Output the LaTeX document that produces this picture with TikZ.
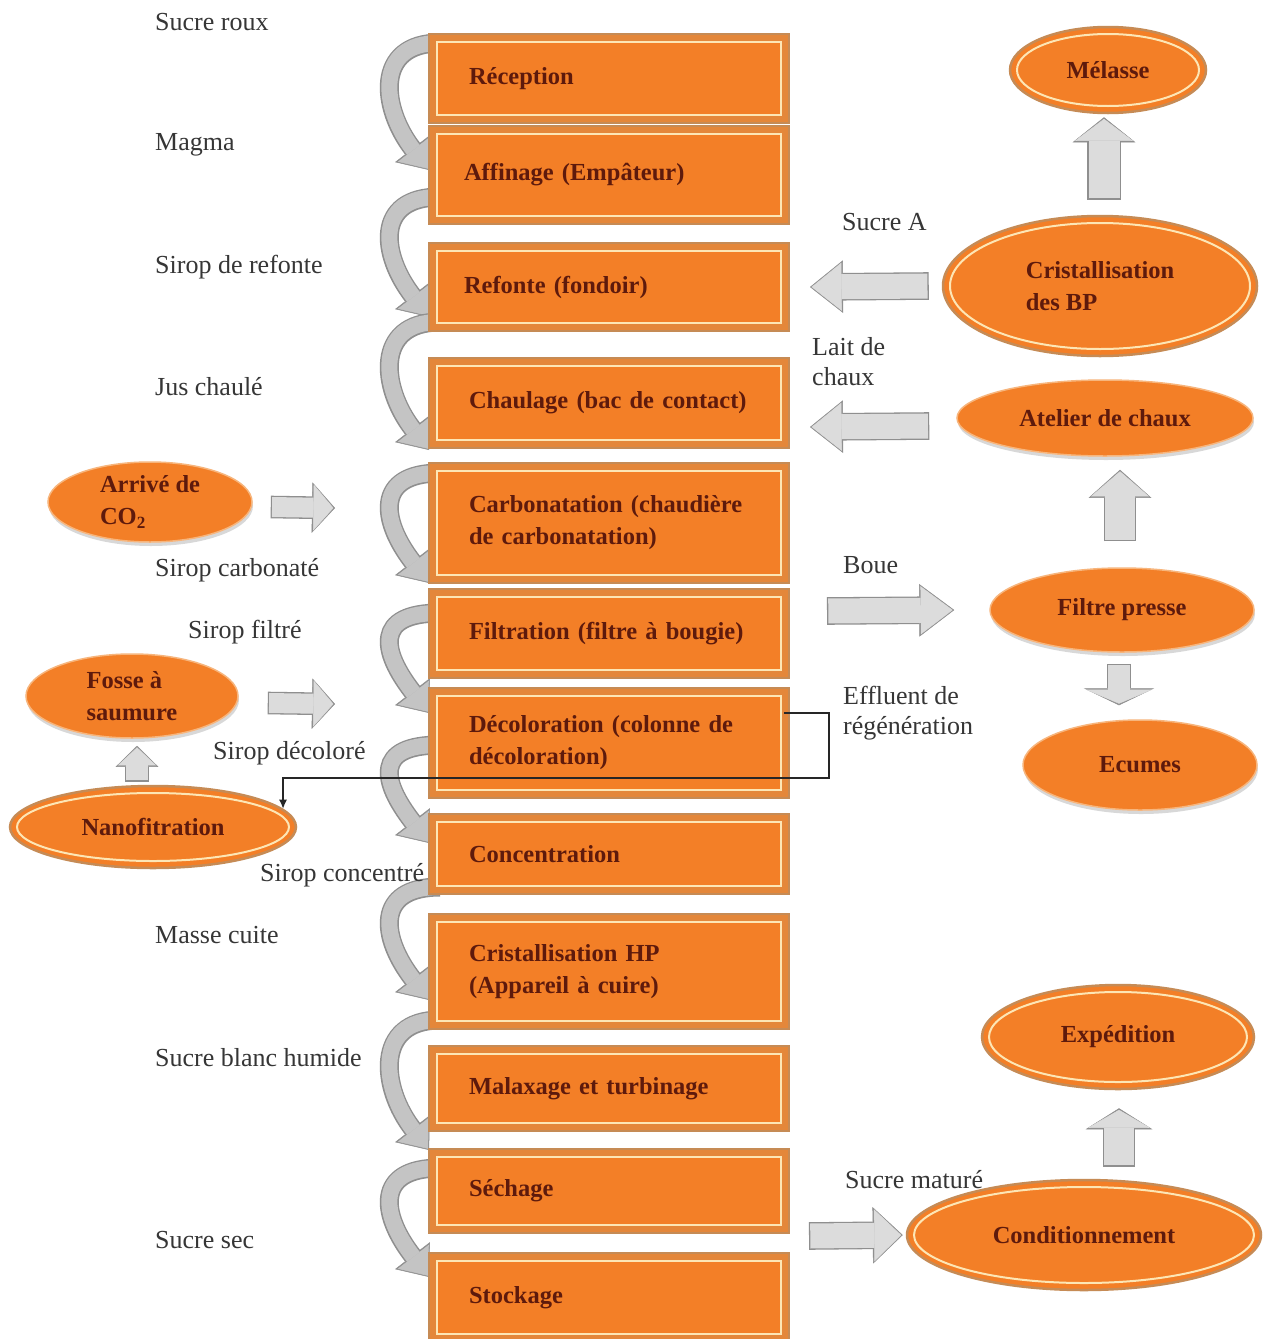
\documentclass[tikz,border=0pt]{standalone}
\usepackage{fontspec}
\setmainfont{Liberation Serif}
\usetikzlibrary{arrows.meta,shapes.geometric,shadows}
\pgfdeclarelayer{bg}
\pgfsetlayers{bg,main}
\definecolor{boxorange}{HTML}{F37F27}
\definecolor{boxband}{HTML}{E4873A}
\definecolor{boxline}{HTML}{C68B55}
\definecolor{creamline}{HTML}{FDE6B5}
\definecolor{boxtext}{HTML}{5E1A0C}
\definecolor{labeltext}{HTML}{363636}
\definecolor{arrline}{HTML}{8F8F8F}
\definecolor{arrfill}{HTML}{DCDCDC}
\definecolor{curvfill}{HTML}{C4C4C4}
\definecolor{plainedge}{HTML}{F7B57C}
\newcommand\bxfont{\fontsize{24.5}{32}\selectfont\bfseries}
\newcommand\lbfont{\fontsize{26}{30}\selectfont}
\newcommand\blockarr[5]{%
 \pgfmathsetmacro\baSO{#1+2.6}\pgfmathsetmacro\baLO{#2+3}\pgfmathsetmacro\baWO{#3+4.5}%
 \draw[draw=arrline, line width=\baSO pt, -{Triangle[length=\baLO pt, width=\baWO pt, line width=0.5pt]}] #4 -- #5;
 \draw[draw=arrfill, line width=#1pt, -{Triangle[length=#2pt, width=#3pt, line width=0.5pt]}, shorten >=1.6pt, shorten <=1.3pt] #4 -- #5;}
\newcommand\curvarr[2]{%
 \draw[curvo] #1 .. controls +(-66,0) and +(-48,-62) .. #2;
 \draw[curvi] #1 .. controls +(-66,0) and +(-48,-62) .. #2;}
\tikzset{
 pbox/.style={rectangle, anchor=north west, minimum width=360pt, text width=280pt, inner xsep=40pt, inner ysep=0pt, align=left, fill=boxband, draw=boxline, line width=2pt, font=\bxfont, text=boxtext,
   path picture={\draw[draw=creamline, line width=2.5pt, fill=boxorange] ([shift={(8pt,-8pt)}]path picture bounding box.north west) rectangle ([shift={(-8pt,8pt)}]path picture bounding box.south east);}},
 ringell/.style={ellipse, fill=boxorange, draw=boxline, line width=2.5pt, inner sep=0pt, align=left, font=\bxfont, text=boxtext},
 plainell/.style={ellipse, fill=boxorange, draw=plainedge, line width=1.5pt, inner sep=0pt, align=left, font=\bxfont, text=boxtext, drop shadow={shadow xshift=1pt, shadow yshift=-4pt, opacity=0.3}},
 lbl/.style={anchor=west, inner sep=0pt, align=left, font=\lbfont, text=labeltext},
 curvo/.style={draw=arrline, line width=19pt, -{Triangle[length=27pt, width=44pt, line width=0.5pt]}},
 curvi/.style={draw=curvfill, line width=16pt, -{Triangle[length=24pt, width=39pt, line width=0.5pt]}, shorten >=1.6pt, shorten <=1.2pt},
 ring/.style={draw=creamline, line width=2pt},
 effl/.style={draw=black!85, line width=1.3pt, -{Latex[length=9pt, width=8pt]}}
}
\begin{document}
\begin{tikzpicture}[x=1pt, y=-1pt]
\begin{pgfonlayer}{bg}
\fill[white] (0,0) rectangle (1263,1339);
\end{pgfonlayer}
\useasboundingbox (0,0) rectangle (1263,1339);

% process column
\node[pbox, minimum height=89pt] (b1) at (428,33) {Réception};
\node[pbox, minimum height=98pt, text width=290pt, inner xsep=35pt] (b2) at (428,125) {Affinage (Empâteur)};
\node[pbox, minimum height=88pt, text width=290pt, inner xsep=35pt] (b3) at (428,242) {Refonte (fondoir)};
\node[pbox, minimum height=90pt] (b4) at (428,357) {Chaulage (bac de contact)};
\node[pbox, minimum height=120pt] (b5) at (428,462) {Carbonatation (chaudière\\de carbonatation)};
\node[pbox, minimum height=89pt] (b6) at (428,588) {Filtration (filtre à bougie)};
\node[pbox, minimum height=110pt] (b7) at (428,687) {Décoloration (colonne de\\décoloration)};
\node[pbox, minimum height=80pt] (b8) at (428,813) {Concentration};
\node[pbox, minimum height=115pt] (b9) at (428,913) {Cristallisation HP\\(Appareil à cuire)};
\node[pbox, minimum height=85pt] (b10) at (428,1045) {Malaxage et turbinage};
\node[pbox, minimum height=84pt] (b11) at (428,1148) {Séchage};
\node[pbox, minimum height=89pt] (b12) at (428,1252) {Stockage};

% left labels
\node[lbl] (l1) at (155,22) {Sucre roux};
\node[lbl] (l2) at (155,145) {Magma};
\node[lbl] (l3) at (155,267) {Sirop de refonte};
\node[lbl] (l4) at (155,387) {Jus chaulé};
\node[lbl] (l5) at (155,570) {Sirop carbonaté};
\node[lbl] (l6) at (188,632) {Sirop filtré};
\node[lbl] (l7) at (213,753) {Sirop décoloré};
\node[lbl] (l8) at (260,875) {Sirop concentré};
\node[lbl] (l9) at (155,935) {Masse cuite};
\node[lbl] (l10) at (155,1058) {Sucre blanc humide};
\node[lbl] (l11) at (155,1240) {Sucre sec};
% right labels
\node[lbl] (r1) at (842,222) {Sucre A};
\node[lbl] (r2) at (812,362) {Lait de\\chaux};
\node[lbl] (r3) at (843,565) {Boue};
\node[lbl] (r4) at (843,713) {Effluent de\\régénération};
\node[lbl] (r5) at (845,1180) {Sucre maturé};

% ellipses
\node[ringell, minimum width=196pt, minimum height=86pt] (melasse) at (1108,70) {Mélasse};
\draw[ring] (melasse.center) ellipse [x radius=91, y radius=36];
\node[ringell, minimum width=314pt, minimum height=140pt] (cbp) at (1100,286) {Cristallisation\\des BP};
\draw[ring] (cbp.center) ellipse [x radius=150, y radius=63];
\node[plainell, minimum width=296pt, minimum height=76pt] (atel) at (1105,418) {Atelier de chaux};
\node[plainell, minimum width=264pt, minimum height=84pt] (filtre) at (1122,610) {Filtre presse};
\node[plainell, minimum width=234pt, minimum height=90pt] (ecumes) at (1140,765) {Ecumes};
\node[plainell, minimum width=204pt, minimum height=80pt] (co2) at (150,502) {Arrivé de\\CO\textsubscript{2}};
\node[plainell, minimum width=212pt, minimum height=84pt] (fosse) at (132,696) {Fosse à\\saumure};
\node[ringell, minimum width=286pt, minimum height=82pt] (nano) at (153,827) {Nanofitration};
\draw[ring] (nano.center) ellipse [x radius=136, y radius=34];
\node[ringell, minimum width=272pt, minimum height=104pt] (exped) at (1118,1037) {Expédition};
\draw[ring] (exped.center) ellipse [x radius=129, y radius=45];
\node[ringell, minimum width=354pt, minimum height=110pt] (cond) at (1084,1235) {Conditionnement};
\draw[ring] (cond.center) ellipse [x radius=170, y radius=48];

% curved arrows between process steps (behind the boxes)
\begin{pgfonlayer}{bg}
\curvarr{([shift={(12,10)}]b1.north west)}{([shift={(1,45)}]b2.north west)}
\curvarr{([shift={(12,72)}]b2.north west)}{([shift={(1,75)}]b3.north west)}
\curvarr{([shift={(12,80)}]b3.north west)}{([shift={(1,93)}]b4.north west)}
\curvarr{([shift={(12,11)}]b5.north west)}{([shift={(1,-5)}]b6.north west)}
\curvarr{([shift={(12,25)}]b6.north west)}{([shift={(1,26)}]b7.north west)}
\curvarr{([shift={(12,58)}]b7.north west)}{([shift={(1,30)}]b8.north west)}
\curvarr{([shift={(12,74)}]b8.north west)}{([shift={(1,87)}]b9.north west)}
\curvarr{([shift={(12,107)}]b9.north west)}{([shift={(1,105)}]b10.north west)}
\curvarr{([shift={(12,20)}]b11.north west)}{([shift={(1,25)}]b12.north west)}
\end{pgfonlayer}

% block arrows
\blockarr{25}{30}{48}{([xshift=-13]cbp.west)}{([xshift=20]b3.east)}
\blockarr{25}{30}{48}{([shift={(-27,8)}]atel.west)}{([shift={(20,24)}]b4.east)}
\blockarr{25}{32}{48}{([shift={(37,-22.5)}]b6.east)}{([xshift=-35]filtre.west)}
\blockarr{25}{27}{52}{([shift={(19,-61.5)}]b12.east)}{([xshift=-3]cond.west)}
\blockarr{20}{20}{46}{([shift={(18,5)}]co2.east)}{([shift={(-93,-15)}]b5.west)}
\blockarr{20}{20}{46}{([shift={(29,7)}]fosse.east)}{([shift={(-93,-39)}]b7.west)}
\blockarr{31}{22}{58}{([shift={(4,-15)}]cbp.north)}{([shift={(-4,3)}]melasse.south)}
\blockarr{30}{25}{58}{([shift={(-2,-26)}]filtre.north)}{([shift={(15,13)}]atel.south)}
\blockarr{22}{14}{66}{([shift={(-3,11)}]filtre.south)}{([shift={(-21,-14)}]ecumes.north)}
\blockarr{22}{18}{38}{([shift={(-16,-3)}]nano.north)}{([shift={(5,7)}]fosse.south)}
\blockarr{30}{18}{62}{([shift={(35,-12)}]cond.north)}{([shift={(1,18)}]exped.south)}

% regeneration effluent line
\draw[effl] ([shift={(-6,26)}]b7.north east) -- ++(45,0) -- ++(0,65) -| (nano.8.5);
\end{tikzpicture}
\end{document}
